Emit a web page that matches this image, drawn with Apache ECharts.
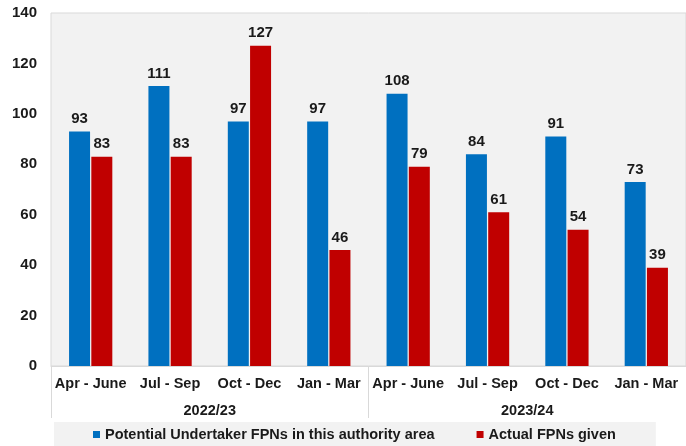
<!DOCTYPE html>
<html>
<head>
<meta charset="utf-8">
<script src="https://cdn.jsdelivr.net/npm/echarts@6/dist/echarts.min.js"></script>
<style>
  html, body { margin: 0; padding: 0; background: #fff; }
  #chart { width: 686px; height: 446px; }
</style>
</head>
<body>
<div id="chart"></div>
<script>
// quarters and financial years
const quarters = ['Apr - June', 'Jul - Sep', 'Oct - Dec', 'Jan - Mar',
                  'Apr - June', 'Jul - Sep', 'Oct - Dec', 'Jan - Mar'];
const years = ['2022/23', '2023/24'];

// series values
const potentialFPNs = [93, 111, 97, 97, 108, 84, 91, 73];
const actualFPNs = [83, 83, 127, 46, 79, 61, 54, 39];

const yTicks = { min: 0, max: 140, interval: 20 };

const font = 'Liberation Sans, Arial, sans-serif';
const chart = echarts.init(document.getElementById('chart'));

const labelStyle = {
  show: true,
  position: 'top',
  distance: 5,
  fontFamily: font,
  fontWeight: 'bold',
  fontSize: 15,
  color: '#1a1a1a'
};

chart.setOption({
  animation: false,
  backgroundColor: '#ffffff',
  grid: {
    left: 51,
    right: 0,
    top: 13,
    bottom: 80,
    show: true,
    backgroundColor: '#f2f2f2',
    borderColor: '#d9d9d9',
    borderWidth: 1
  },
  legend: {
    left: 54,
    bottom: 0,
    padding: [5, 40, 4, 39],
    itemGap: 42,
    itemWidth: 7,
    itemHeight: 7,
    icon: 'rect',
    backgroundColor: '#f2f2f2',
    textStyle: {
      fontFamily: font,
      fontWeight: 'bold',
      fontSize: 14.5,
      color: '#1a1a1a'
    }
  },
  xAxis: [
    {
      type: 'category',
      data: quarters,
      axisLine: { lineStyle: { color: '#d9d9d9' } },
      axisTick: { show: false },
      axisLabel: {
        interval: 0,
        margin: 10,
        fontFamily: font,
        fontWeight: 'bold',
        fontSize: 14.5,
        color: '#1a1a1a'
      }
    },
    {
      type: 'category',
      data: years,
      position: 'bottom',
      gridIndex: 0,
      axisLine: { show: false },
      axisTick: {
        show: true,
        length: 52,
        interval: 0,
        lineStyle: { color: '#d9d9d9' }
      },
      axisLabel: {
        interval: 0,
        margin: 37,
        fontFamily: font,
        fontWeight: 'bold',
        fontSize: 14.5,
        color: '#1a1a1a'
      }
    }
  ],
  yAxis: {
    type: 'value',
    min: yTicks.min,
    max: yTicks.max,
    interval: yTicks.interval,
    axisLine: { show: false },
    axisTick: { show: false },
    splitLine: { show: false },
    axisLabel: {
      margin: 14,
      fontFamily: font,
      fontWeight: 'bold',
      fontSize: 15,
      color: '#1a1a1a'
    }
  },
  series: [
    {
      name: 'Potential Undertaker FPNs in this authority area',
      type: 'bar',
      data: potentialFPNs,
      barWidth: 21,
      barGap: '6%',
      itemStyle: { color: '#0070c0' },
      label: labelStyle
    },
    {
      name: 'Actual FPNs given',
      type: 'bar',
      data: actualFPNs,
      barWidth: 21,
      barGap: '6%',
      itemStyle: { color: '#c00000' },
      label: labelStyle
    }
  ]
});
</script>
</body>
</html>
